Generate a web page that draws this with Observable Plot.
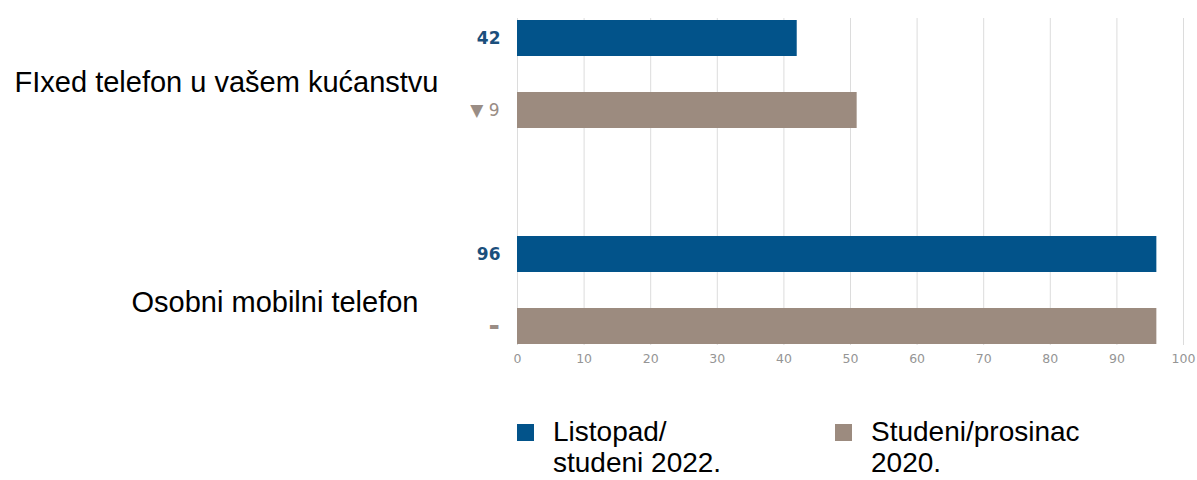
<!DOCTYPE html>
<html>
<head>
<meta charset="utf-8">
<script src="https://cdn.jsdelivr.net/npm/d3@7"></script>
<script src="https://cdn.jsdelivr.net/npm/@observablehq/plot@0.6"></script>
<style>
  body { margin: 0; background: #fff; }
  #chart { width: 1197px; }
  .legend { display: flex; margin-left: 517px; margin-top: 26px; font-family: "Liberation Sans", Arial, sans-serif; font-size: 28px; line-height: 31px; color: #000; }
  .item { display: flex; align-items: flex-start; width: 318px; }
  .swatch { width: 17px; height: 17px; margin-top: 8px; margin-right: 19px; flex: none; }
</style>
</head>
<body>
<div id="chart"></div>
<script>
const categories = ["FIxed telefon u vašem kućanstvu", "Osobni mobilni telefon"];
const series = ["Listopad/studeni 2022.", "Studeni/prosinac 2020."];
const legendLines = [["Listopad/", "studeni 2022."], ["Studeni/prosinac", "2020."]];
const values2022 = [42, 96];
const values2020 = [51, 96];
const labels2022 = ["42", "96"];
const labels2020 = ["▼ 9", "▬"];
const xTicks = [0, 10, 20, 30, 40, 50, 60, 70, 80, 90, 100];

const colors = ["#02538a", "#9c8b7f"];
const labelColors = ["#1b4f7c", "#9a8d85"];

const rows = [];
const domain = [];
categories.forEach((c, i) => {
  if (i > 0) domain.push("gap" + i);
  rows.push({key: c + "|0", category: c, series: series[0], value: values2022[i], label: labels2022[i], s: 0});
  rows.push({key: c + "|1", category: c, series: series[1], value: values2020[i], label: labels2020[i], s: 1});
  domain.push(c + "|0", c + "|1");
});
const catRows = categories.map((c, i) => ({key: c + "|0", category: c, i}));

const chart = Plot.plot({
  width: 1197,
  height: 390,
  marginLeft: 517,
  marginRight: 14,
  marginTop: 18,
  marginBottom: 45,
  style: {background: "#fff", fontFamily: "DejaVu Sans, Verdana, sans-serif"},
  x: {domain: [0, 100], axis: null},
  y: {domain, axis: null, paddingInner: 0.5, paddingOuter: 0.02},
  color: {domain: series, range: colors},
  marks: [
    Plot.ruleX(xTicks, {stroke: "#dcdcdc", strokeWidth: 1, strokeOpacity: 1}),
    Plot.barX(rows, {x: "value", y: "key", fill: "series"}),
    Plot.text(xTicks, {x: d => d, text: d => String(d), frameAnchor: "bottom", dy: 17, fontSize: 12.5, fill: "#959595", fontFamily: "DejaVu Sans, Verdana, sans-serif"}),
    Plot.text(rows.filter(d => d.s === 0), {x: 0, y: "key", text: "label", textAnchor: "end", dx: -17, fontSize: 17, fontWeight: "bold", fill: labelColors[0], fontFamily: "DejaVu Sans, Verdana, sans-serif"}),
    Plot.text(rows.filter(d => d.s === 1), {x: 0, y: "key", text: "label", textAnchor: "end", dx: -18, fontSize: d => d.label === "▬" ? 11 : 17, fill: labelColors[1], fontFamily: "DejaVu Sans, Verdana, sans-serif"}),
    Plot.text(catRows.filter(d => d.i === 0), {x: 0, y: "key", text: "category", textAnchor: "end", dx: -79, dy: 44, fontSize: 29, fill: "#000", fontFamily: "Liberation Sans, Arial, sans-serif"}),
    Plot.text(catRows.filter(d => d.i === 1), {x: 0, y: "key", text: "category", textAnchor: "end", dx: -99, dy: 48, fontSize: 29, fill: "#000", fontFamily: "Liberation Sans, Arial, sans-serif"})
  ]
});
document.getElementById("chart").appendChild(chart);

const legend = document.createElement("div");
legend.className = "legend";
series.forEach((s, i) => {
  const item = document.createElement("div");
  item.className = "item";
  const sw = document.createElement("div");
  sw.className = "swatch";
  sw.style.background = colors[i];
  const t = document.createElement("div");
  t.innerHTML = legendLines[i].join("<br>");
  item.appendChild(sw);
  item.appendChild(t);
  legend.appendChild(item);
});
document.body.appendChild(legend);
</script>
</body>
</html>
